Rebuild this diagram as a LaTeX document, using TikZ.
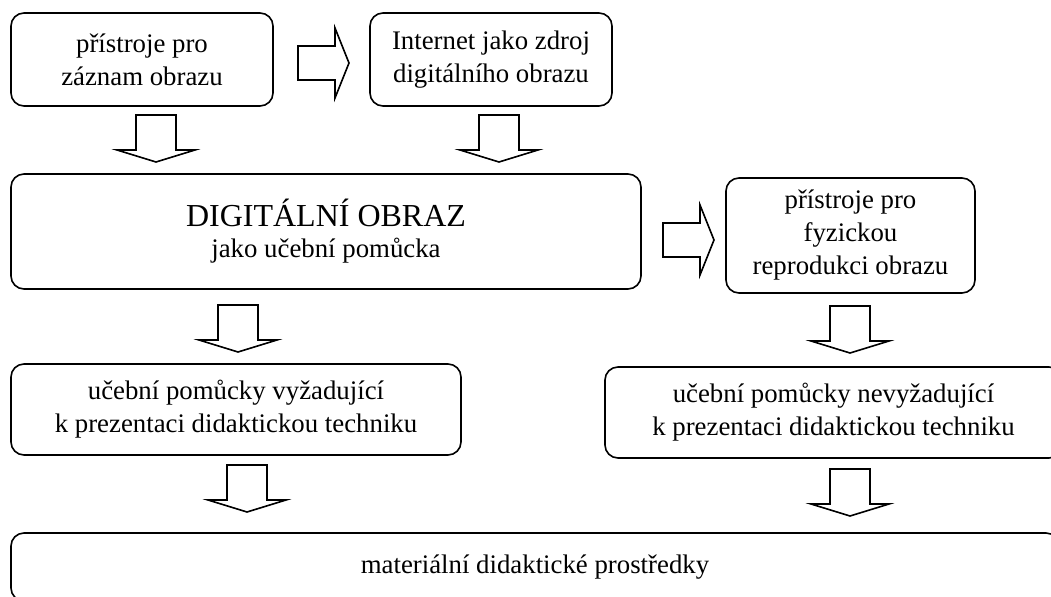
\documentclass[tikz,border=0pt]{standalone}
\usepackage{fontspec}
\setmainfont{Liberation Serif}
\usetikzlibrary{positioning}

\begin{document}
\begin{tikzpicture}[
      x=0.5pt, y=-0.5pt,
      box/.style={draw,line width=0.8pt,rounded corners=6.5pt,align=center,
                  inner sep=0pt,font=\fontsize{13.4}{16.5}\selectfont},
      downarr/.pic={\draw[line width=0.8pt,fill=white,line join=miter]
          (-20,0) -- (20,0) -- (20,35) -- (39,35) -- (0,47)
          -- (-39,35) -- (-20,35) -- cycle;},
      rightarr/.pic={\draw[line width=0.8pt,fill=white,line join=miter]
          (0,-17) -- (37,-17) -- (37,-35) -- (51,0) -- (37,35)
          -- (37,17) -- (0,17) -- cycle;},
    ]
    \clip (0,0) rectangle (1051,596);

    % ── Sources of the image ───────────────────────────────────────────────
    \node[box,minimum width=131pt,minimum height=46.5pt] (rec)  at (142,59.5)
          {přístroje pro\\záznam obrazu};
    \node[box,minimum width=121pt,minimum height=46.5pt] (inet) at (491,59.5)
          {Internet jako zdroj\\digitálního obrazu};

    % ── Digital image ──────────────────────────────────────────────────────
    \node[box,minimum width=315pt,minimum height=57.5pt] (digi) at (326,231.5)
          {{\fontsize{16}{18}\selectfont DIGITÁLNÍ OBRAZ}\\[-1pt]jako učební pomůcka};
    \node[box,minimum width=124.5pt,minimum height=57.5pt] (repro) at (850.5,235.5)
          {přístroje pro\\fyzickou\\reprodukci obrazu};

    % ── Teaching aids ──────────────────────────────────────────────────────
    \node[box,minimum width=225pt,minimum height=45.5pt] (req)   at (236,409.5)
          {učební pomůcky vyžadující\\k prezentaci didaktickou techniku};
    \node[box,minimum width=228.5pt,minimum height=45.5pt] (noreq) at (833.5,412.5)
          {učební pomůcky nevyžadující\\k prezentaci didaktickou techniku};

    % ── Result ─────────────────────────────────────────────────────────────
    \node[box,minimum width=524pt,minimum height=34pt] (mat) at (535,567)
          {materiální didaktické prostředky};

    % ── Block arrows ───────────────────────────────────────────────────────
    \pic at (298,63)  {rightarr};
    \pic at (663,240) {rightarr};
    \pic at (156,115) {downarr};
    \pic at (499,115) {downarr};
    \pic at (238,305) {downarr};
    \pic at (850,306) {downarr};
    \pic at (247,465) {downarr};
    \pic at (850,469) {downarr};

  \end{tikzpicture}
\end{document}
